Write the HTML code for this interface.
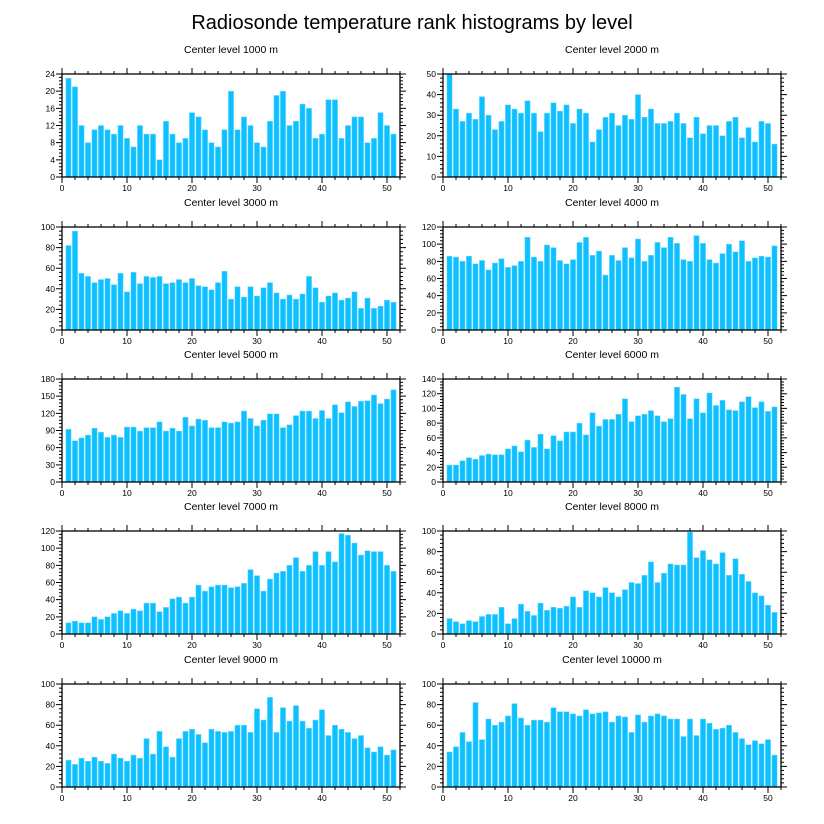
<!DOCTYPE html>
<html><head><meta charset="utf-8"><style>
html,body{margin:0;padding:0;background:#fff;}
svg{display:block;font-family:"Liberation Sans",sans-serif;}
</style></head><body>
<svg id="chart" width="824" height="824" viewBox="0 0 824 824">
<text x="412" y="29" text-anchor="middle" font-size="20" fill="#000">Radiosonde temperature rank histograms by level</text>
</svg>
<script>
const levels = [1000,2000,3000,4000,5000,6000,7000,8000,9000,10000];
const yMaxes = [24,50,100,120,180,140,120,100,100,100];
const ySteps = [4,10,20,20,30,20,20,20,20,20];
const xTicks = [0,10,20,30,40,50];
const v1000 = [23,21,12,8,11,12,11,10,12,9,7,12,10,10,4,13,10,8,9,15,14,11,8,7,11,20,11,14,12,8,7,13,19,20,12,13,17,16,9,10,18,18,9,12,14,14,8,9,15,12,10];
const v2000 = [50,33,27,31,28,39,30,23,27,35,33,31,37,31,22,31,36,32,35,26,33,31,17,23,29,31,25,30,28,40,29,33,26,26,27,31,26,19,29,21,25,25,20,27,29,19,24,17,27,26,16];
const v3000 = [82,96,55,52,46,49,50,44,55,37,56,45,52,51,52,45,46,49,46,50,43,42,39,46,57,30,42,32,42,33,41,46,36,30,34,30,35,52,41,27,33,36,29,31,37,21,31,21,23,29,27];
const v4000 = [86,85,80,86,77,81,70,78,83,73,75,80,108,85,80,99,96,81,77,82,102,108,87,92,64,87,81,96,84,106,80,87,102,96,108,101,82,80,110,101,82,78,89,100,91,104,80,84,86,85,98];
const v5000 = [92,72,77,82,94,87,78,82,78,96,96,89,95,95,105,89,94,89,113,98,110,108,95,95,105,103,105,124,111,98,108,119,119,95,100,116,124,124,111,125,111,135,121,140,132,141,142,152,137,145,161];
const v6000 = [23,23,29,33,31,36,38,37,37,45,49,41,57,47,65,45,63,56,68,68,80,64,94,76,85,85,92,113,82,90,92,97,90,82,86,129,119,86,113,94,121,104,111,98,97,109,116,101,109,96,102];
const v7000 = [13,15,13,13,20,17,20,24,27,24,29,27,36,36,26,31,41,43,36,43,57,50,55,57,57,54,55,59,75,68,50,64,71,73,80,89,73,80,96,80,96,84,117,115,106,92,97,96,96,80,73];
const v8000 = [15,12,10,13,12,17,19,19,26,10,15,29,22,18,30,23,26,25,27,36,26,42,40,36,45,40,36,43,50,49,57,70,50,59,68,67,67,99,74,81,72,68,79,57,73,58,51,40,37,28,21];
const v9000 = [26,22,28,25,29,25,23,32,28,25,31,28,47,32,54,39,29,47,54,56,51,43,56,54,53,54,60,60,53,76,65,87,53,77,64,79,64,57,65,75,50,60,56,53,47,50,38,34,39,31,36];
const v10000 = [34,39,53,44,82,46,66,60,63,69,81,67,60,65,65,63,77,73,73,71,69,75,71,72,73,63,69,68,53,70,63,69,71,69,66,66,49,66,50,66,62,56,57,60,53,47,41,45,42,46,31];
const seriesList = [v1000,v2000,v3000,v4000,v5000,v6000,v7000,v8000,v9000,v10000];

const NS = "http://www.w3.org/2000/svg";
const svg = document.getElementById('chart');
function mk(tag, attrs, parent){
  const e = document.createElementNS(NS, tag);
  for (const k in attrs) e.setAttribute(k, attrs[k]);
  parent.appendChild(e);
  return e;
}
const colX = [62, 443], rowY = [74, 227, 379, 531, 684];
const PW = 338, PH = 103, XMAX = 52;

for (let p = 0; p < 10; p++) {
  const left = colX[p % 2], top = rowY[Math.floor(p / 2)];
  const bottom = top + PH, right = left + PW;
  const ymax = yMaxes[p], ystep = ySteps[p], vals = seriesList[p];
  const xs = v => left + v / XMAX * PW;
  const ys = v => bottom - v / ymax * PH;
  const g = mk('g', {}, svg);
  
  

  const t = mk('text', {x: left + PW / 2, y: top - 21, 'text-anchor': 'middle', 'font-size': 10.5, fill: '#000'}, g);
  t.textContent = 'Center level ' + levels[p] + ' m';
  
  

  for (let i = 0; i < vals.length; i++) {
    const c = i + 1;
    const r = mk('rect', {x: xs(c - 0.4), y: ys(vals[i]), width: xs(0.8) - left, height: bottom - ys(vals[i]), fill: '#0fc0ff', stroke: '#6fd8ff', 'stroke-width': 0.5}, g);
    
    
  }

  const frame = mk('rect', {x: left, y: top, width: PW, height: PH, fill: 'none', stroke: '#000', 'stroke-width': 1.3}, g);
  
  

  let d = '';
  for (let xv = 0; xv <= XMAX; xv += 2) {
    const X = xs(xv), L = (xv % 10 === 0) ? 6 : 3;
    d += `M${X},${bottom}v${L}M${X},${top}v${-L}`;
  }
  const mstep = ystep / 5;
  for (let k = 0; k * mstep <= ymax + 1e-9; k++) {
    const yv = k * mstep, Y = ys(yv), L = (k % 5 === 0) ? 6 : 3;
    d += `M${left},${Y}h${-L}M${right},${Y}h${L}`;
  }
  const ticks = mk('path', {d: d, stroke: '#000', 'stroke-width': 1, fill: 'none'}, g);
  
  

  for (const xv of xTicks) {
    const tx = mk('text', {x: xs(xv), y: bottom + 14, 'text-anchor': 'middle', 'font-size': 8.5, fill: '#000'}, g);
    tx.textContent = xv;
    
    
  }
  for (let yv = 0; yv <= ymax; yv += ystep) {
    const ty = mk('text', {x: left - 7, y: ys(yv) + 3, 'text-anchor': 'end', 'font-size': 8.5, fill: '#000'}, g);
    ty.textContent = yv;
    
    
  }
}
</script>
</body></html>
